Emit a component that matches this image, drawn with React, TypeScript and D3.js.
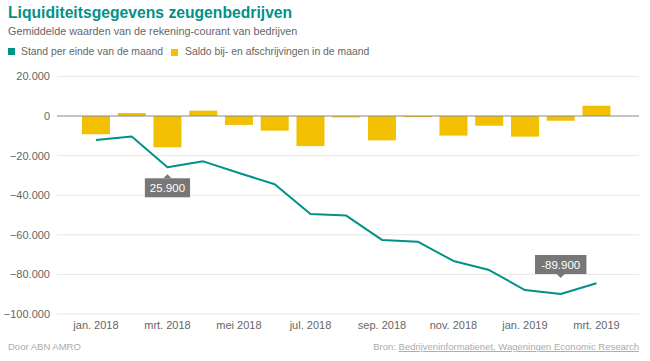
import React from 'react';
import * as d3 from 'd3';

const months = [
  'jan. 2018', 'feb. 2018', 'mrt. 2018', 'apr. 2018', 'mei 2018', 'jun. 2018', 'jul. 2018',
  'aug. 2018', 'sep. 2018', 'okt. 2018', 'nov. 2018', 'dec. 2018', 'jan. 2019', 'feb. 2019', 'mrt. 2019',
];
// Saldo bij- en afschrijvingen in de maand
const saldo = [-9200, 1500, -15800, 2700, -4500, -7400, -15200, -700, -12300, -600, -9900, -4900, -10400, -2400, 5200];
// Stand per einde van de maand
const stand = [-12100, -10400, -25900, -22900, -28800, -34500, -49500, -50300, -62600, -63500, -73200, -77800, -87900, -89900, -84500];
const yTicks = [20000, 0, -20000, -40000, -60000, -80000, -100000];
const callouts = [
  { idx: 2, text: '25.900', below: true },
  { idx: 13, text: '-89.900', below: false },
];

const W = 650;
const H = 361;
const TEAL = '#009286';
const YELLOW = '#f2c000';
const FONT = 'Liberation Sans, Arial, sans-serif';

const fmt = (v: number) => d3.format(',')(v).replace(/,/g, '.');

export default function App() {
  const left = 57;
  const right = 639;
  const x = d3.scaleLinear().domain([-1.09, 15.19]).range([left, right]);
  const y = d3.scaleLinear().domain([-100000, 20000]).range([314, 76.4]);
  const barW = 28;

  const line = d3.line<number>()
    .x((_, i) => x(i))
    .y((d) => y(d));

  return (
    <svg width={W} height={H} style={{ position: 'absolute', left: 0, top: 0, background: '#fff' }} fontFamily={FONT}>
      <text x={8} y={18} fontSize={15.7} fontWeight="bold" fill={TEAL}>Liquiditeitsgegevens zeugenbedrijven</text>
      <text x={8} y={35} fontSize={10.8} fill="#666">Gemiddelde waarden van de rekening-courant van bedrijven</text>

      <rect x={8} y={48} width={7} height={7} fill={TEAL} />
      <text x={21} y={55} fontSize={10.4} fill="#666">Stand per einde van de maand</text>
      <rect x={171} y={49} width={7} height={7} fill={YELLOW} />
      <text x={185} y={55} fontSize={10.4} fill="#666">Saldo bij- en afschrijvingen in de maand</text>

      {yTicks.map((t) => (
        <g key={t}>
          {t !== 0 && <line x1={left} x2={right} y1={y(t)} y2={y(t)} stroke="#e6e6e6" strokeWidth={1} />}
          <text x={50} y={y(t) + 4} textAnchor="end" fontSize={11} fill="#666">{fmt(t)}</text>
        </g>
      ))}

      {saldo.map((v, i) => (
        <rect key={i} x={x(i) - barW / 2} y={Math.min(y(v), y(0))} width={barW}
          height={Math.abs(y(v) - y(0))} fill={YELLOW} />
      ))}
      <line x1={left} x2={right} y1={y(0)} y2={y(0)} stroke="#888" strokeWidth={1} />

      <path d={line(stand) ?? ''} fill="none" stroke={TEAL} strokeWidth={2} strokeLinejoin="round" />

      {months.map((m, i) => i % 2 === 0 && (
        <text key={m} x={x(i)} y={329} textAnchor="middle" fontSize={11} fill="#666">{m}</text>
      ))}

      {callouts.map((c) => {
        const cx = x(c.idx);
        const cy = y(stand[c.idx]);
        const bw = c.text.length * 6.2 + 8;
        const bh = 19;
        const by = c.below ? cy + 11 : cy - 39;
        const arrow = c.below
          ? `M${cx - 4},${by} L${cx},${by - 4} L${cx + 4},${by} Z`
          : `M${cx - 4},${by + bh} L${cx},${by + bh + 4} L${cx + 4},${by + bh} Z`;
        return (
          <g key={c.idx}>
            <rect x={cx - bw / 2} y={by} width={bw} height={bh} fill="#777" />
            <path d={arrow} fill="#777" />
            <text x={cx} y={by + 13.5} textAnchor="middle" fontSize={11.5} fill="#fff">{c.text}</text>
          </g>
        );
      })}

      <text x={8} y={350} fontSize={9.5} fill="#aaa">Door ABN AMRO</text>
      <text x={right} y={350} textAnchor="end" fontSize={9.5} fill="#aaa">
        Bron: <tspan textDecoration="underline">Bedrijveninformatienet, Wageningen Economic Research</tspan>
      </text>
    </svg>
  );
}
